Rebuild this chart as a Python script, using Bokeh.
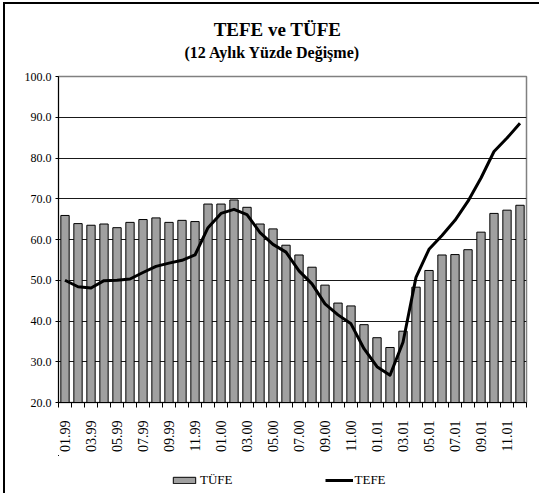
from bokeh.plotting import figure
from bokeh.layouts import column
from bokeh.models import (Range1d, FixedTicker, Legend, LegendItem,
                          ColumnDataSource)
from bokeh.core.properties import value
from bokeh.embed import file_html
from bokeh.resources import INLINE
import math

title_text = "TEFE ve TÜFE"
subtitle_text = "(12 Aylık Yüzde Değişme)"
months = ["01.99", "02.99", "03.99", "04.99", "05.99", "06.99", "07.99", "08.99",
          "09.99", "10.99", "11.99", "12.99", "01.00", "02.00", "03.00", "04.00",
          "05.00", "06.00", "07.00", "08.00", "09.00", "10.00", "11.00", "12.00",
          "01.01", "02.01", "03.01", "04.01", "05.01", "06.01", "07.01", "08.01",
          "09.01", "10.01", "11.01", "12.01"]
tufe = [65.9, 63.9, 63.5, 63.8, 62.9, 64.2, 64.9, 65.3, 64.2, 64.7, 64.4, 68.7,
        68.7, 69.7, 67.9, 63.8, 62.6, 58.6, 56.2, 53.2, 48.8, 44.4, 43.7, 39.1,
        35.9, 33.5, 37.5, 48.3, 52.4, 56.2, 56.3, 57.5, 61.8, 66.4, 67.2, 68.4]
tefe = [50.0, 48.4, 48.1, 49.9, 50.0, 50.3, 51.9, 53.4, 54.2, 54.9, 56.2, 62.9,
        66.4, 67.4, 66.1, 61.7, 58.8, 56.9, 52.3, 49.1, 44.2, 41.5, 39.3, 33.2,
        28.8, 26.7, 34.8, 50.7, 57.6, 61.0, 64.7, 69.4, 75.1, 81.6, 84.9, 88.5]
y_ticks = [20, 30, 40, 50, 60, 70, 80, 90, 100]

FONT = "Liberation Serif"
BAR_FILL = "#a0a0a0"
W = 534
n = len(months)
xs = [i + 0.5 for i in range(n)]
src = ColumnDataSource(dict(x=xs, tufe=tufe, tefe=tefe, m=months))

# ---- header with the two titles ----
hdr = figure(width=W, height=64, output_backend="svg", toolbar_location=None,
             x_range=Range1d(0, 468), y_range=Range1d(64, 0),
             min_border_left=53, min_border_right=13, min_border_top=0,
             min_border_bottom=0)
hdr.axis.visible = False
hdr.grid.visible = False
hdr.outline_line_color = None
hdr.text(x=[219], y=[25], text=[title_text], text_font=value(FONT),
         text_font_size="19px", text_font_style="bold", text_color="black",
         text_align="center", text_baseline="alphabetic")
hdr.text(x=[214], y=[48], text=[subtitle_text], text_font=value(FONT),
         text_font_size="16px", text_font_style="bold", text_color="black",
         text_align="center", text_baseline="alphabetic")

# ---- main chart ----
p = figure(width=W, height=387, output_backend="svg", toolbar_location=None,
           x_range=Range1d(0, n), y_range=Range1d(20, 100),
           min_border_left=53, min_border_right=13, min_border_top=8,
           min_border_bottom=51)

bars = p.vbar(x="x", top="tufe", bottom=20, width=0.64, source=src,
              fill_color=BAR_FILL, line_color="black", line_width=1)
line = p.line(x="x", y="tefe", source=src, line_color="black", line_width=3,
              line_join="round")

p.xaxis.ticker = FixedTicker(ticks=[xs[i] for i in range(0, n, 2)],
                             minor_ticks=list(range(0, n + 1)))
p.xaxis.major_label_overrides = {xs[i]: months[i] for i in range(0, n, 2)}
p.xaxis.major_tick_line_color = None
p.xaxis.major_tick_out = 0
p.xaxis.major_tick_in = 0
p.xaxis.minor_tick_out = 5
p.xaxis.minor_tick_in = 0
p.xaxis.minor_tick_line_color = "black"
p.xaxis.major_label_orientation = math.pi / 2
p.xaxis.major_label_standoff = 13
p.xaxis.major_label_text_font = FONT
p.xaxis.major_label_text_font_size = "14px"
p.xaxis.major_label_text_color = "black"
p.xaxis.axis_line_color = "black"

p.yaxis.ticker = FixedTicker(ticks=y_ticks)
p.yaxis.major_label_overrides = {v: f"{v:.1f}" for v in y_ticks}
p.yaxis.major_tick_out = 3
p.yaxis.major_tick_in = 0
p.yaxis.minor_tick_line_color = None
p.yaxis.major_label_standoff = 4
p.yaxis.major_label_text_font = FONT
p.yaxis.major_label_text_font_size = "12px"
p.yaxis.major_label_text_color = "black"
p.yaxis.axis_line_color = "black"

p.xgrid.grid_line_color = None
p.ygrid.grid_line_color = "black"
p.ygrid.grid_line_width = 1
p.ygrid.grid_line_alpha = 0.9

p.outline_line_color = "#808080"
p.outline_line_width = 1.5

# ---- legend strip below the chart ----
lg = figure(width=W, height=38, output_backend="svg", toolbar_location=None,
            x_range=Range1d(1000, 1468), y_range=Range1d(0, 1),
            min_border_left=53, min_border_right=13, min_border_top=0,
            min_border_bottom=0)
lg.axis.visible = False
lg.grid.visible = False
lg.outline_line_color = None
lb = lg.vbar(x="x", top="tufe", bottom=20, width=0.64, source=src,
             fill_color=BAR_FILL, line_color="black", line_width=1)
ll = lg.line(x="x", y="tefe", source=src, line_color="black", line_width=3)
legend = Legend(items=[LegendItem(label="TÜFE", renderers=[lb]),
                       LegendItem(label="TEFE", renderers=[ll])],
                orientation="horizontal", location=(112, 5),
                label_text_font=FONT, label_text_font_size="13px",
                label_text_color="black",
                glyph_width=28, glyph_height=8, label_standoff=2, spacing=92,
                border_line_color=None, background_fill_alpha=0,
                margin=0, padding=0)
lg.add_layout(legend, "center")

layout = column(hdr, p, lg, spacing=0)
layout.styles = {"border-left": "2px solid black", "border-top": "2px solid black",
                 "margin-left": "3px", "margin-top": "2px"}

open("out.html", "w").write(file_html(layout, INLINE))
